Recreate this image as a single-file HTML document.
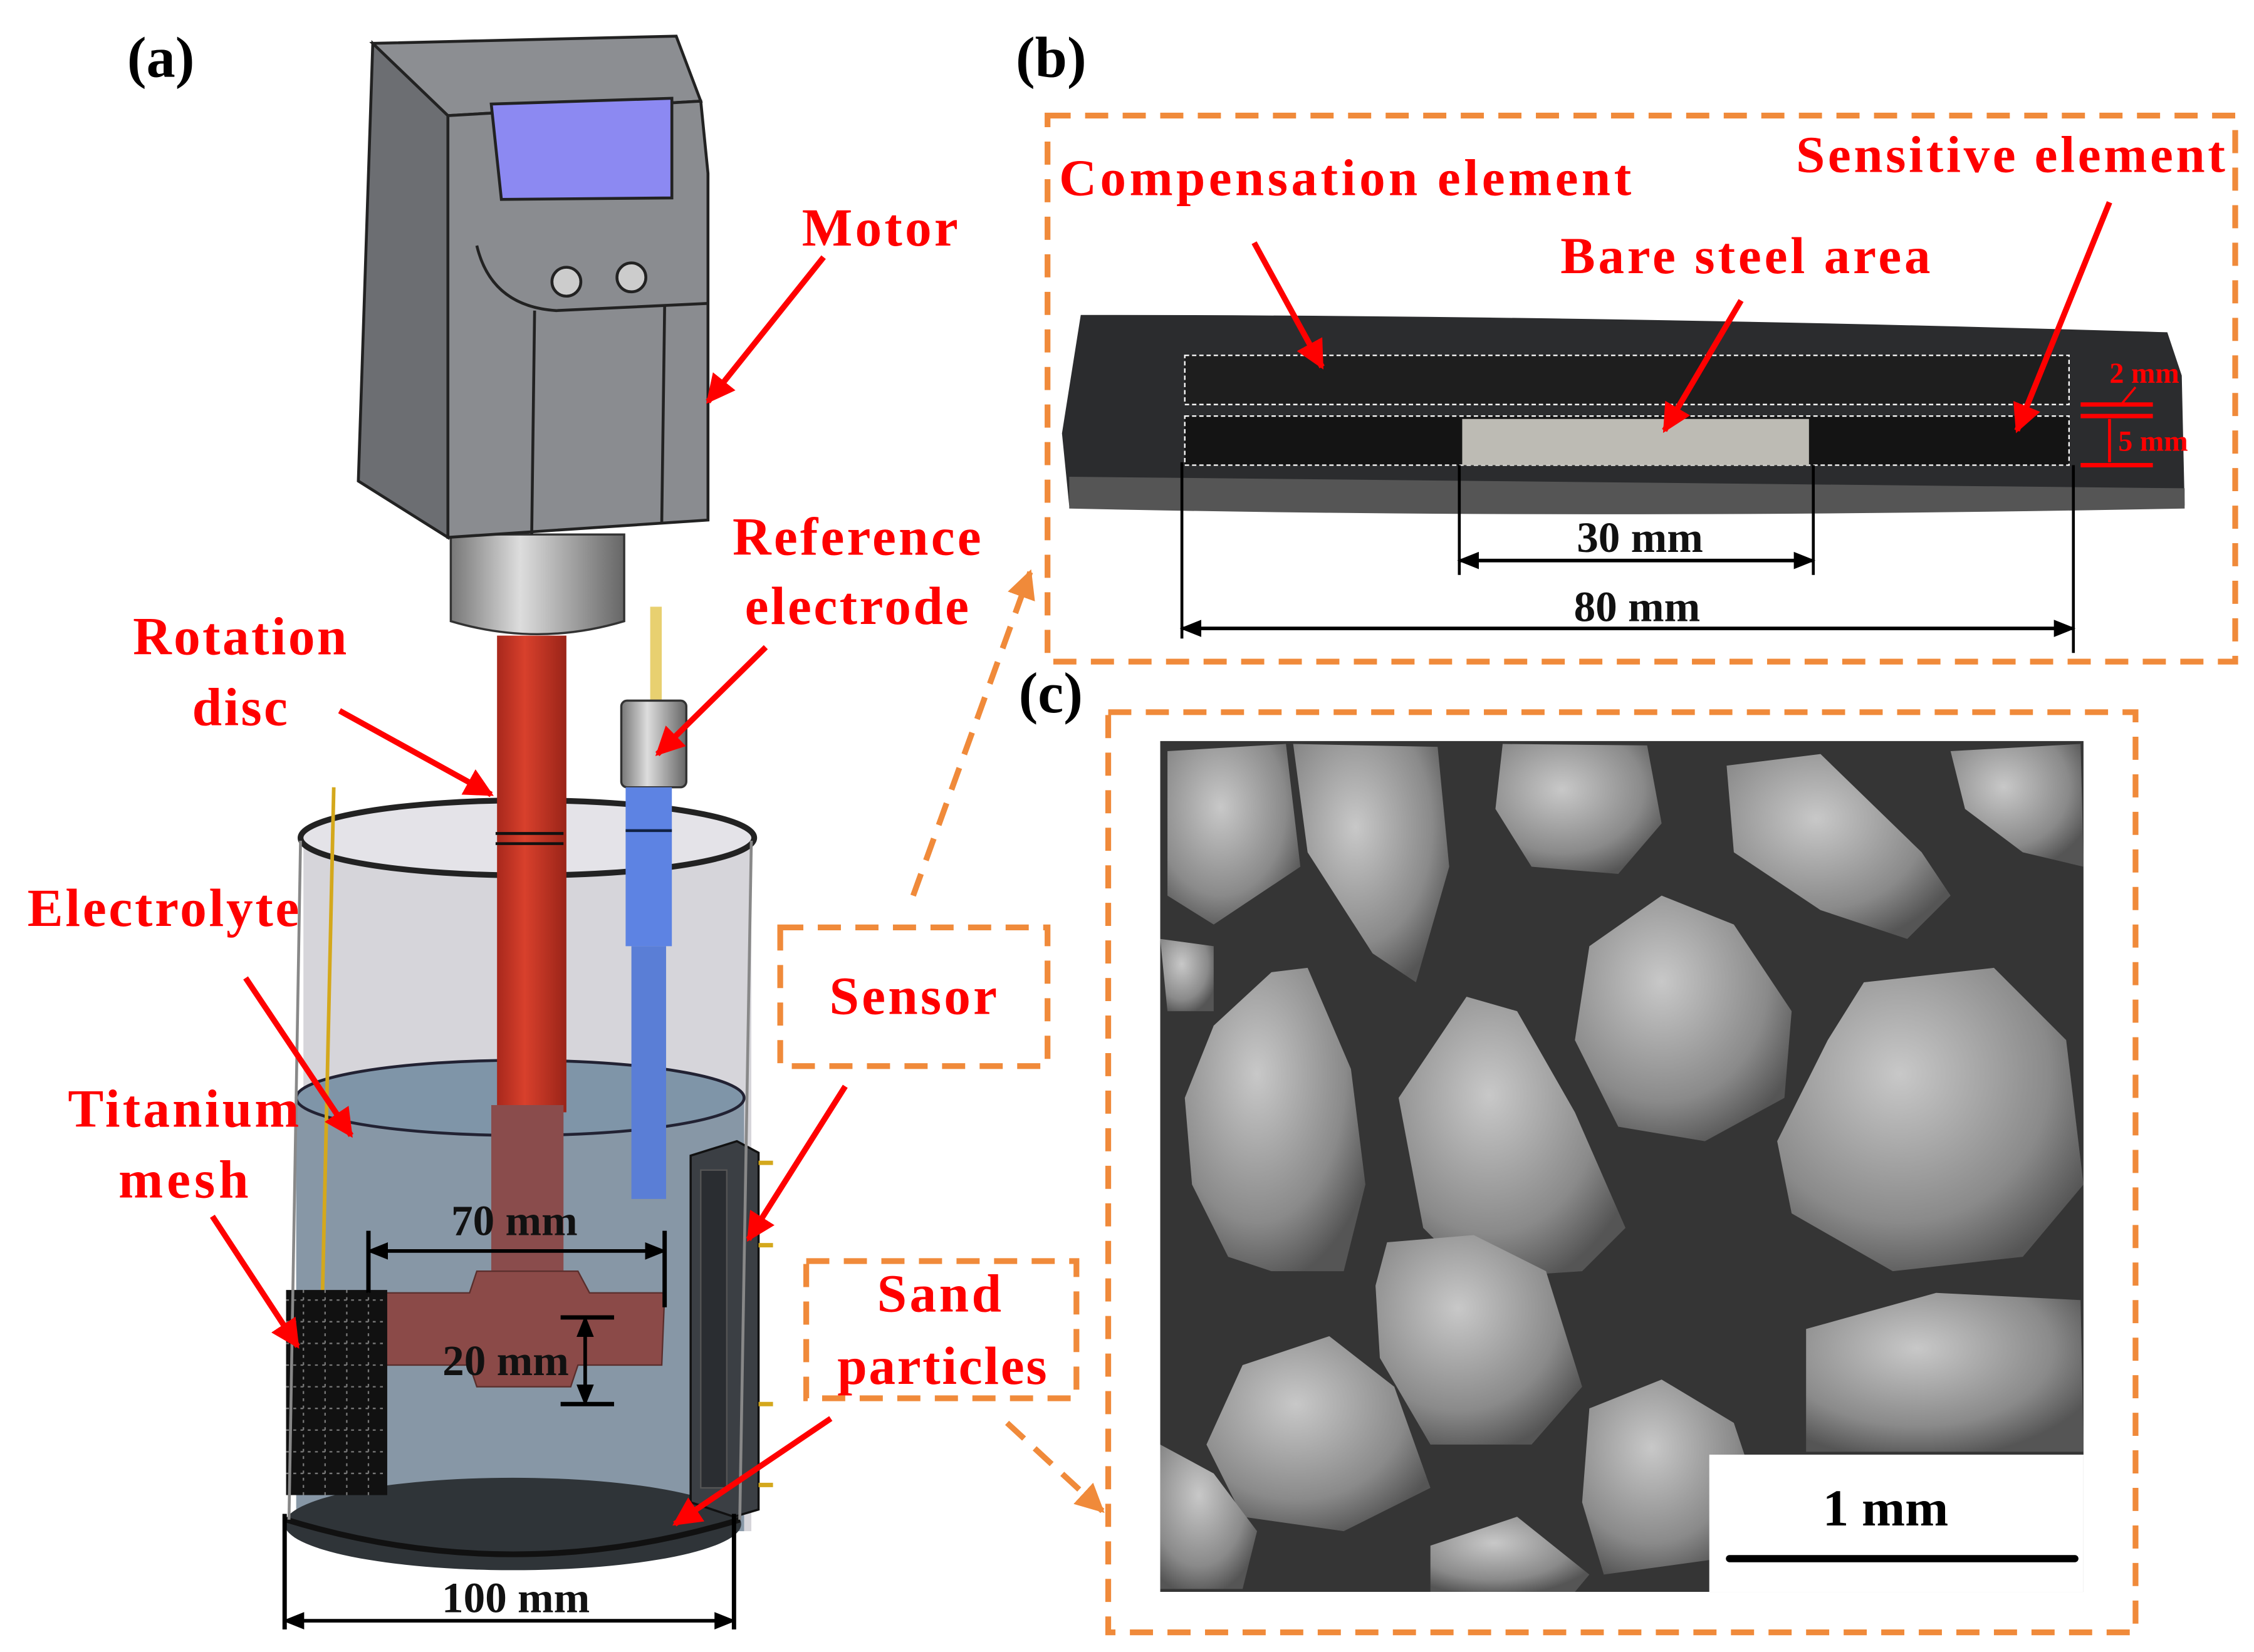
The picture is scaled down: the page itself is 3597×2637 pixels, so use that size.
<!DOCTYPE html>
<html><head><meta charset="utf-8"><style>
html,body{margin:0;padding:0;background:#fff}
svg{display:block}
text{font-family:"Liberation Serif",serif;font-weight:bold}
</style></head><body>
<svg width="3597" height="2637" viewBox="0 0 1560 1143.6" xmlns="http://www.w3.org/2000/svg">
<defs>
<marker id="ar" viewBox="0 0 10 10" refX="9" refY="5" markerWidth="5" markerHeight="5" orient="auto"><path d="M0,0L10,5L0,10z" fill="#f00"/></marker>
<marker id="ao" viewBox="0 0 10 10" refX="9" refY="5" markerWidth="5" markerHeight="5" orient="auto"><path d="M0,0L10,5L0,10z" fill="#f08a3a"/></marker>
<marker id="ak" viewBox="0 0 10 10" refX="9" refY="5" markerWidth="6" markerHeight="6" orient="auto-start-reverse"><path d="M0,1L10,5L0,9z" fill="#000"/></marker>
<radialGradient id="pg" cx="40%" cy="35%" r="70%"><stop offset="0" stop-color="#c8c8c8"/><stop offset="0.7" stop-color="#8a8a8a"/><stop offset="1" stop-color="#555"/></radialGradient>
<linearGradient id="col" x1="0" x2="1"><stop offset="0" stop-color="#777"/><stop offset="0.4" stop-color="#ddd"/><stop offset="1" stop-color="#666"/></linearGradient>
<linearGradient id="rod" x1="0" x2="1"><stop offset="0" stop-color="#a8281c"/><stop offset="0.4" stop-color="#d8402c"/><stop offset="1" stop-color="#9a2418"/></linearGradient>
</defs>

<!-- labels -->
<text x="88" y="53" font-size="40">(a)</text>
<text x="703" y="53" font-size="40">(b)</text>
<text x="705" y="493" font-size="40">(c)</text>

<!-- ===== (a) ===== -->
<!-- beaker back -->
<path d="M210,580 L520,580 L520,1060 L210,1060 Z" fill="#d6d5da"/>
<ellipse cx="365" cy="580" rx="157" ry="26" fill="#e4e3e8" stroke="#222" stroke-width="4"/>
<!-- water -->
<path d="M205,760 Q360,720 515,760 L515,1060 L205,1060 Z" fill="#8797a6"/>
<ellipse cx="360" cy="760" rx="155" ry="26" fill="#7f95a8" stroke="#223" stroke-width="2"/>
<!-- bottom -->
<ellipse cx="355" cy="1055" rx="158" ry="32" fill="#2f3438"/>
<path d="M198,1052 Q355,1100 512,1052" fill="none" stroke="#111" stroke-width="4"/>
<!-- wire -->
<line x1="231" y1="545" x2="223" y2="905" stroke="#d4a81c" stroke-width="2.5"/>
<!-- rod -->
<rect x="344" y="440" width="48" height="330" fill="url(#rod)"/>
<rect x="340" y="765" width="50" height="140" fill="#8a4c4c"/>
<line x1="343" y1="577" x2="390" y2="577" stroke="#111" stroke-width="2"/>
<line x1="343" y1="584" x2="390" y2="584" stroke="#111" stroke-width="2"/>
<!-- impeller -->
<path d="M256,895 L325,895 L330,880 L400,880 L408,895 L460,895 L458,945 L400,945 L395,960 L330,960 L325,945 L256,945 Z" fill="#8b4a48" stroke="#5a2e2c" stroke-width="1"/>
<!-- ref electrode -->
<rect x="450" y="420" width="8" height="65" fill="#e8d070"/>
<rect x="430" y="485" width="45" height="60" rx="4" fill="url(#col)" stroke="#333" stroke-width="1.5"/>
<rect x="433" y="545" width="32" height="110" fill="#5d83e3"/>
<rect x="437" y="655" width="24" height="175" fill="#5a7ed6"/>
<line x1="433" y1="575" x2="465" y2="575" stroke="#124" stroke-width="2"/>
<!-- Ti mesh -->
<rect x="198" y="893" width="70" height="142" fill="#111"/>
<path d="M198,900 L268,900 M198,915 L268,915 M198,930 L268,930 M198,945 L268,945 M198,960 L268,960 M198,975 L268,975 M198,990 L268,990 M198,1005 L268,1005 M198,1020 L268,1020 M210,893 L210,1035 M225,893 L225,1035 M240,893 L240,1035 M255,893 L255,1035" stroke="#777" stroke-width="1" stroke-dasharray="2 3"/>
<!-- sensor plate -->
<path d="M478,800 L510,790 L525,798 L525,1045 L508,1050 L478,1040 Z" fill="#3b3f44" stroke="#111" stroke-width="1.5"/>
<rect x="485" y="810" width="18" height="220" fill="#2a2d31" stroke="#555"/>
<line x1="525" y1="805" x2="535" y2="805" stroke="#d4a81c" stroke-width="3"/>
<line x1="525" y1="862" x2="535" y2="862" stroke="#d4a81c" stroke-width="3"/>
<line x1="525" y1="972" x2="535" y2="972" stroke="#d4a81c" stroke-width="3"/>
<line x1="525" y1="1028" x2="535" y2="1028" stroke="#d4a81c" stroke-width="3"/>
<!-- beaker side walls -->
<line x1="208" y1="582" x2="200" y2="1052" stroke="#888" stroke-width="2"/>
<line x1="520" y1="582" x2="512" y2="1052" stroke="#888" stroke-width="2"/>
<!-- collar -->
<path d="M312,370 L432,370 L432,430 Q372,448 312,430 Z" fill="url(#col)" stroke="#333" stroke-width="1.5"/>
<!-- motor -->
<path d="M258,30 L310,80 L310,372 L248,333 Z" fill="#6c6e72" stroke="#222" stroke-width="2"/>
<path d="M258,30 L468,25 L485,70 L310,80 Z" fill="#8c8e92" stroke="#222" stroke-width="2"/>
<path d="M310,80 L485,70 L490,120 L490,360 L310,372 Z" fill="#8a8c90" stroke="#222" stroke-width="2"/>
<path d="M330,170 Q340,212 385,215 L490,210" fill="none" stroke="#222" stroke-width="2"/>
<line x1="370" y1="215" x2="368" y2="370" stroke="#222" stroke-width="2"/>
<line x1="460" y1="212" x2="458" y2="362" stroke="#222" stroke-width="2"/>
<path d="M340,72 L465,68 L465,137 L347,138 Z" fill="#8c89f2" stroke="#222" stroke-width="2"/>
<circle cx="392" cy="195" r="10" fill="#ccc" stroke="#222" stroke-width="2"/>
<circle cx="437" cy="192" r="10" fill="#ccc" stroke="#222" stroke-width="2"/>

<!-- dims a -->
<line x1="255" y1="866" x2="460" y2="866" stroke="#000" stroke-width="2.5" marker-start="url(#ak)" marker-end="url(#ak)"/>
<line x1="255" y1="852" x2="255" y2="895" stroke="#000" stroke-width="3"/>
<line x1="460" y1="852" x2="460" y2="905" stroke="#000" stroke-width="3"/>
<text x="356" y="855" font-size="30" text-anchor="middle" fill="#111">70 mm</text>
<line x1="388" y1="912" x2="425" y2="912" stroke="#000" stroke-width="3"/>
<line x1="388" y1="972" x2="425" y2="972" stroke="#000" stroke-width="3"/>
<line x1="405" y1="912" x2="405" y2="972" stroke="#000" stroke-width="2.5" marker-start="url(#ak)" marker-end="url(#ak)"/>
<text x="350" y="952" font-size="30" text-anchor="middle" fill="#111">20 mm</text>
<line x1="197" y1="1048" x2="197" y2="1128" stroke="#000" stroke-width="3"/>
<line x1="508" y1="1048" x2="508" y2="1128" stroke="#000" stroke-width="3"/>
<line x1="197" y1="1122" x2="508" y2="1122" stroke="#000" stroke-width="2.5" marker-start="url(#ak)" marker-end="url(#ak)"/>
<text x="357" y="1116" font-size="30" text-anchor="middle" fill="#111">100 mm</text>

<!-- red labels a -->
<g fill="#f00" font-size="37" text-anchor="middle">
<text x="609" y="170" textLength="108">Motor</text>
<text x="593" y="384" textLength="172">Reference</text>
<text x="593" y="432" textLength="155">electrode</text>
<text x="166" y="453" textLength="148">Rotation</text>
<text x="166" y="502" textLength="66">disc</text>
<text x="113" y="641" textLength="188">Electrolyte</text>
<text x="127" y="780" textLength="160">Titanium</text>
<text x="127" y="829" textLength="90">mesh</text>
<text x="632" y="702" textLength="116">Sensor</text>
<text x="650" y="908" textLength="86">Sand</text>
<text x="652" y="958" textLength="145">particles</text>
</g>
<g stroke="#f00" stroke-width="4" marker-end="url(#ar)">
<line x1="570" y1="178" x2="490" y2="278"/>
<line x1="530" y1="448" x2="455" y2="522"/>
<line x1="235" y1="492" x2="340" y2="550"/>
<line x1="170" y1="677" x2="243" y2="786"/>
<line x1="147" y1="842" x2="206" y2="932"/>
<line x1="585" y1="752" x2="518" y2="858"/>
<line x1="575" y1="982" x2="467" y2="1055"/>
</g>
<g fill="none" stroke="#f08a3a" stroke-width="4" stroke-dasharray="16 10">
<rect x="540" y="642" width="185" height="96"/>
<rect x="558" y="873" width="187" height="95"/>
<rect x="725" y="80" width="822" height="378"/>
<rect x="767" y="493" width="711" height="637"/>
<line x1="632" y1="620" x2="713" y2="396" marker-end="url(#ao)"/>
<line x1="697" y1="985" x2="763" y2="1046" marker-end="url(#ao)"/>
</g>

<!-- ===== (b) ===== -->
<path d="M748,218 Q1100,218 1500,230 L1510,260 L1512,350 Q1100,358 740,350 L735,300 Z" fill="#2b2c2e"/>
<path d="M740,330 L1512,338 L1512,352 Q1100,360 740,352 Z" fill="#555"/>
<rect x="820" y="246" width="612" height="34" fill="#1e1e1e" stroke="#fff" stroke-width="1" stroke-dasharray="3 2"/>
<rect x="820" y="288" width="612" height="34" fill="#141414" stroke="#fff" stroke-width="1" stroke-dasharray="3 2"/>
<rect x="1012" y="290" width="240" height="32" fill="#bdbbb4"/>
<line x1="818" y1="320" x2="818" y2="442" stroke="#000" stroke-width="2"/>
<line x1="1010" y1="322" x2="1010" y2="398" stroke="#000" stroke-width="2"/>
<line x1="1255" y1="322" x2="1255" y2="398" stroke="#000" stroke-width="2"/>
<line x1="1435" y1="322" x2="1435" y2="452" stroke="#000" stroke-width="2"/>
<line x1="1010" y1="388" x2="1255" y2="388" stroke="#000" stroke-width="2.5" marker-start="url(#ak)" marker-end="url(#ak)"/>
<line x1="818" y1="435" x2="1435" y2="435" stroke="#000" stroke-width="2.5" marker-start="url(#ak)" marker-end="url(#ak)"/>
<text x="1135" y="382" font-size="30" text-anchor="middle" fill="#111">30 mm</text>
<text x="1133" y="430" font-size="30" text-anchor="middle" fill="#111">80 mm</text>
<g fill="#f00" font-size="36">
<text x="733" y="135" textLength="396">Compensation element</text>
<text x="1243" y="119" textLength="297">Sensitive element</text>
<text x="1080" y="189" textLength="256">Bare steel area</text>
<text x="1460" y="265" font-size="20">2 mm</text>
<text x="1466" y="312" font-size="20">5 mm</text>
</g>
<g stroke="#f00" stroke-width="3">
<line x1="1440" y1="280" x2="1490" y2="280"/>
<line x1="1440" y1="288" x2="1490" y2="288"/>
<line x1="1440" y1="322" x2="1490" y2="322"/>
<line x1="1478" y1="268" x2="1468" y2="280" stroke-width="1.5"/>
<line x1="1460" y1="290" x2="1460" y2="320" stroke-width="2"/>
</g>
<g stroke="#f00" stroke-width="4" marker-end="url(#ar)">
<line x1="868" y1="168" x2="915" y2="254"/>
<line x1="1205" y1="208" x2="1152" y2="298"/>
<line x1="1460" y1="140" x2="1396" y2="298"/>
</g>

<!-- ===== (c) SEM ===== -->
<rect x="803" y="513" width="639" height="589" fill="#353535"/>
<g fill="url(#pg)">
<path d="M808,520 L890,515 L900,600 L840,640 L808,620 Z"/>
<path d="M895,515 L995,517 L1003,600 L980,680 L950,660 L905,590 Z"/>
<path d="M1040,515 L1140,516 L1150,570 L1120,605 L1060,600 L1035,560 Z"/>
<path d="M1195,530 L1260,522 L1330,590 L1350,620 L1320,650 L1260,630 L1200,590 Z"/>
<path d="M1350,520 L1440,515 L1442,600 L1400,590 L1360,560 Z"/>
<path d="M803,650 L840,655 L840,700 L808,700 Z"/>
<path d="M880,673 L905,670 L935,740 L945,820 L930,880 L880,880 L850,870 L825,820 L820,760 L840,710 Z"/>
<path d="M1100,655 L1150,620 L1200,640 L1240,700 L1235,760 L1180,790 L1120,780 L1090,720 Z"/>
<path d="M1015,690 L1050,700 L1090,770 L1125,850 L1095,880 L1020,885 L985,850 L968,760 Z"/>
<path d="M1290,680 L1380,670 L1430,720 L1442,820 L1400,870 L1310,880 L1240,840 L1230,790 L1265,720 Z"/>
<path d="M960,860 L1020,855 L1070,880 L1095,960 L1060,1000 L990,1000 L955,940 L952,890 Z"/>
<path d="M860,945 L920,925 L965,960 L990,1030 L930,1060 L860,1050 L835,1000 Z"/>
<path d="M803,1000 L840,1020 L870,1060 L860,1100 L803,1100 Z"/>
<path d="M1100,975 L1150,955 L1200,985 L1215,1030 L1183,1080 L1110,1090 L1095,1040 Z"/>
<path d="M1250,920 L1340,895 L1440,900 L1442,1005 L1250,1005 Z"/>
<path d="M990,1070 L1050,1050 L1100,1090 L1090,1102 L990,1102 Z"/>
</g>
<rect x="1183" y="1007" width="259" height="95" fill="#fff"/>
<text x="1305" y="1056" font-size="36" text-anchor="middle" fill="#000">1 mm</text>
<line x1="1197" y1="1079" x2="1436" y2="1079" stroke="#000" stroke-width="5" stroke-linecap="round"/>
</svg>
</body></html>
